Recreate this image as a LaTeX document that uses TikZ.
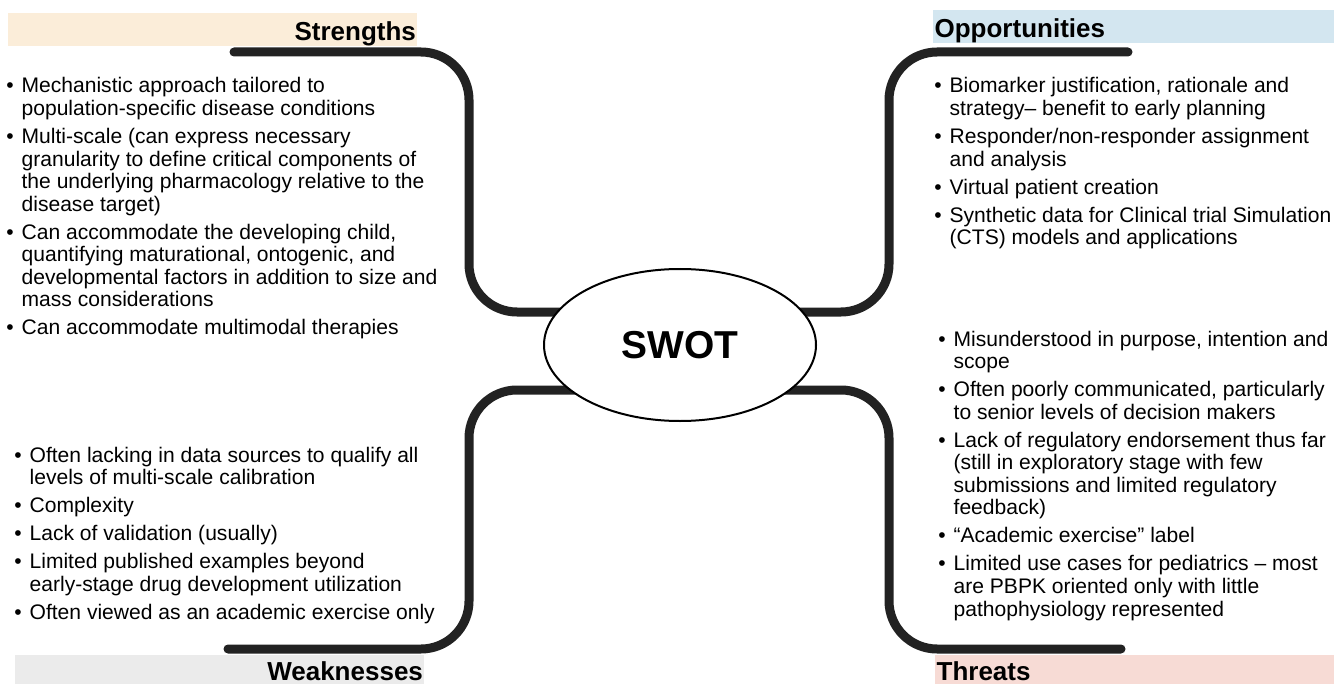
\documentclass[tikz,border=0pt]{standalone}
\usepackage{fontspec}
\setmainfont{Liberation Sans}
\usetikzlibrary{positioning, shapes.geometric, calc, backgrounds}
\definecolor{strengthfill}{HTML}{FBEDD9}
\definecolor{oppfill}{HTML}{D3E6F0}
\definecolor{weakfill}{HTML}{EBEBEB}
\definecolor{threatfill}{HTML}{F7DBD5}
\definecolor{branchgray}{HTML}{222222}
\newcommand{\swotpoint}[1]{\textbullet\hspace{6pt}\begin{tabular}[t]{@{}l@{}}#1\end{tabular}}

\begin{document}
\begin{tikzpicture}[
    x=0.75pt, y=-0.75pt,
    node distance=3.75pt,
    hub/.style={ellipse, draw=black, line width=1.5pt, fill=white, minimum width=204pt, minimum height=114pt, inner sep=0pt, font=\fontsize{29.2pt}{32pt}\selectfont\bfseries},
    band/.style={anchor=north west, inner xsep=1pt, inner ysep=0pt, text height=15.75pt, text depth=0pt, font=\fontsize{19.5pt}{22pt}\selectfont\bfseries},
    listitem/.style={inner sep=0pt, font=\fontsize{15.8pt}{16.9pt}\selectfont},
    branch/.style={line width=6.75pt, draw=branchgray, line cap=round, rounded corners=36pt}
]
\useasboundingbox (0,0) rectangle (1334,684);

\node[hub] (swot) at (680,345) {SWOT};

% headers
\node[band, fill=strengthfill, minimum height=24.75pt, text width=304.75pt, align=right] (shead) at (8,13) {Strengths};
\node[band, fill=oppfill, minimum height=24.75pt, text width=298.75pt, align=left] (ohead) at (933,10) {Opportunities};
\node[band, fill=weakfill, minimum height=21.75pt, text width=304.75pt, align=right] (whead) at (15,655) {Weaknesses};
\node[band, fill=threatfill, minimum height=21.75pt, text width=297.25pt, align=left] (thead) at (935,655) {Threats};

% strengths
\node[listitem, anchor=base west] (s1) at (6,93) {\swotpoint{Mechanistic approach tailored to\\population-specific disease conditions}};
\node[listitem, below=of s1.south west, anchor=north west] (s2) {\swotpoint{Multi-scale (can express necessary\\granularity to define critical components of\\the underlying pharmacology relative to the\\disease target)}};
\node[listitem, below=of s2.south west, anchor=north west] (s3) {\swotpoint{Can accommodate the developing child,\\quantifying maturational, ontogenic, and\\developmental factors in addition to size and\\mass considerations}};
\node[listitem, below=of s3.south west, anchor=north west] (s4) {\swotpoint{Can accommodate multimodal therapies}};

% opportunities
\node[listitem, anchor=base west] (o1) at (934,93) {\swotpoint{Biomarker justification, rationale and\\strategy-- benefit to early planning}};
\node[listitem, below=of o1.south west, anchor=north west] (o2) {\swotpoint{Responder/non-responder assignment\\and analysis}};
\node[listitem, below=of o2.south west, anchor=north west] (o3) {\swotpoint{Virtual patient creation}};
\node[listitem, below=of o3.south west, anchor=north west] (o4) {\swotpoint{Synthetic data for Clinical trial Simulation\\(CTS) models and applications}};

% weaknesses
\node[listitem, anchor=base west] (w1) at (14,462) {\swotpoint{Often lacking in data sources to qualify all\\levels of multi-scale calibration}};
\node[listitem, below=of w1.south west, anchor=north west] (w2) {\swotpoint{Complexity}};
\node[listitem, below=of w2.south west, anchor=north west] (w3) {\swotpoint{Lack of validation (usually)}};
\node[listitem, below=of w3.south west, anchor=north west] (w4) {\swotpoint{Limited published examples beyond\\early-stage drug development utilization}};
\node[listitem, below=of w4.south west, anchor=north west] (w5) {\swotpoint{Often viewed as an academic exercise only}};

% threats
\node[listitem, anchor=base west] (t1) at (938,346) {\swotpoint{Misunderstood in purpose, intention and\\scope}};
\node[listitem, below=of t1.south west, anchor=north west] (t2) {\swotpoint{Often poorly communicated, particularly\\to senior levels of decision makers}};
\node[listitem, below=of t2.south west, anchor=north west] (t3) {\swotpoint{Lack of regulatory endorsement thus far\\(still in exploratory stage with few\\submissions and limited regulatory\\feedback)}};
\node[listitem, below=of t3.south west, anchor=north west] (t4) {\swotpoint{``Academic exercise'' label}};
\node[listitem, below=of t4.south west, anchor=north west] (t5) {\swotpoint{Limited use cases for pediatrics -- most\\are PBPK oriented only with little\\pathophysiology represented}};

% branches behind the hub
\coordinate (stip) at (234,52);
\coordinate (otip) at (1128,52);
\coordinate (wtip) at (228,649);
\coordinate (ttip) at (1121,649);
\begin{scope}[on background layer]
\draw[branch] (stip) -- (469,52) -- (469,312) -- ($(swot.center)+(-60,-33)$);
\draw[branch] (otip) -- (889,52) -- (889,312) -- ($(swot.center)+(60,-33)$);
\draw[branch] (wtip) -- (469,649) -- (469,390) -- ($(swot.center)+(-60,45)$);
\draw[branch] (ttip) -- (889,649) -- (889,390) -- ($(swot.center)+(60,45)$);
\end{scope}

\end{tikzpicture}
\end{document}
